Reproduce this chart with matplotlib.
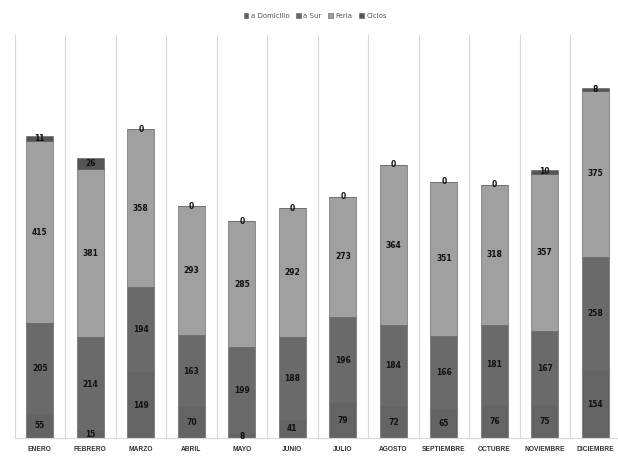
import numpy as np
import matplotlib
matplotlib.use('Agg')
import matplotlib.pyplot as plt

# ─── DATA ──────────────────────────────────────────────────────────────────────
MESES = ['ENERO', 'FEBRERO', 'MARZO', 'ABRIL', 'MAYO', 'JUNIO', 'JULIO',
         'AGOSTO', 'SEPTIEMBRE', 'OCTUBRE', 'NOVIEMBRE', 'DICIEMBRE']
SERIES = ['a Domicilio', 'a Sur', 'Feria', 'Ciclos']

domicilio = [55, 15, 149, 70, 8, 41, 79, 72, 65, 76, 75, 154]
sur       = [205, 214, 194, 163, 199, 188, 196, 184, 166, 181, 167, 258]
feria     = [415, 381, 358, 293, 285, 292, 273, 364, 351, 318, 357, 375]
ciclos    = [11, 26, 0, 0, 0, 0, 0, 0, 0, 0, 10, 8]

COLOURS = ['#646464', '#6a6a6a', '#a0a0a0', '#555555']

# ─── FIGURE ────────────────────────────────────────────────────────────────────
fig = plt.figure(figsize=(6.18, 4.58), dpi=100)
ax = fig.add_axes([0.0236, 0.0437, 0.9806, 0.88])

x = np.arange(len(MESES))
bottom = np.zeros(len(MESES))
for name, vals, col in zip(SERIES, [domicilio, sur, feria, ciclos], COLOURS):
    bars = ax.bar(x, vals, width=0.54, bottom=bottom, color=col,
                  edgecolor='#5a5a5a', linewidth=0.4, label=name)
    ax.bar_label(bars, labels=[str(v) for v in vals], label_type='center',
                 fontsize=5.5, fontweight='bold', color='#111111')
    bottom += np.array(vals)

# separators between months
for k in range(len(MESES) + 1):
    ax.axvline(k - 0.5, color='#d8d8d8', linewidth=0.8, zorder=0)

ax.set_xlim(-0.5, len(MESES) - 0.5)
ax.set_ylim(0, 915)
ax.set_yticks([])
ax.set_xticks(x)
ax.set_xticklabels(MESES, fontsize=4.8, fontweight='bold', color='#333333',
                   family='Liberation Sans')
ax.tick_params(axis='x', length=0, pad=6)
for side in ['top', 'right', 'left']:
    ax.spines[side].set_visible(False)
ax.spines['bottom'].set_color('#d8d8d8')

fig.legend(loc='upper center', bbox_to_anchor=(0.51, 0.985), ncol=4,
           frameon=False, fontsize=5, handlelength=0.7, handleheight=0.7,
           handletextpad=0.3, columnspacing=1.0, labelcolor='#555555')

plt.savefig('out.png', dpi=100)
plt.close()
